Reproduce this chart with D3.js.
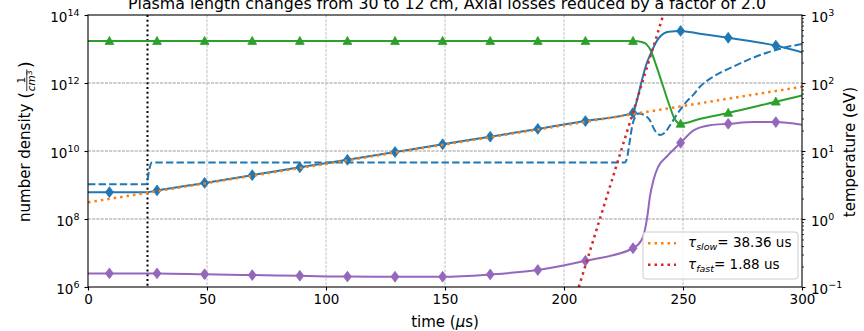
<!DOCTYPE html>
<html><head><meta charset="utf-8">
<script src="https://cdn.jsdelivr.net/npm/d3@7"></script>
<style>
body{margin:0;background:#fff}
svg{display:block}
text{font-family:"DejaVu Sans",sans-serif;fill:#000}
</style>
</head><body><svg id="c" width="864" height="331"></svg>
<script>
// ---------------- data ----------------
const title = "Plasma length changes from 30 to 12 cm, Axial losses reduced by a factor of 2.0";
const xTicks = [0, 50, 100, 150, 200, 250, 300];
const leftTicks = [1e6, 1e8, 1e10, 1e12, 1e14];
const leftExps = ["6", "8", "10", "12", "14"];
const rightTicks = [1e-1, 1e0, 1e1, 1e2, 1e3];
const rightExps = ["\u22121", "0", "1", "2", "3"];
const markerTimes = [9, 29, 49, 69, 89, 109, 129, 149, 169, 189, 209, 229, 249, 269, 289];
const switchTime = 25;

// blue solid, diamonds (left axis, 1/cm^3)
const ionDensity = [
  [0, 6.17e8], [9, 6.17e8], [25, 6.17e8], [29, 6.92e8], [49, 1.15e9], [69, 1.95e9],
  [89, 3.31e9], [109, 5.50e9], [129, 9.33e9], [149, 1.58e10], [169, 2.63e10],
  [189, 4.47e10], [209, 7.59e10], [229, 1.32e11], [230.5, 2.82e11], [232.6, 1.10e12],
  [234.6, 3.55e12], [236.8, 8.32e12], [238.5, 1.51e13], [240.3, 2.29e13], [242, 2.88e13],
  [244, 3.24e13], [249, 3.39e13], [257, 2.82e13], [269, 2.14e13], [289, 1.26e13], [300, 7.94e12]
];
// blue dashed (right axis, eV)
const electronTemp = [
  [0, 3.24], [24.6, 3.24], [25.6, 5.0], [26.7, 6.76], [225.5, 6.76], [226.5, 7.94],
  [227.5, 13.0], [228.7, 23.7], [229.9, 31.6], [231.5, 35.5], [233, 34.7], [236.1, 28.2],
  [238.2, 20.0], [240.5, 17.2], [242.5, 18.8], [244.5, 23.7], [247.3, 33.9], [251.5, 53.1],
  [254.3, 66.8], [257.1, 88.1], [262.7, 124], [271.1, 174], [278, 224], [285.2, 279],
  [292, 327], [300, 376]
];
// green solid, triangles (left axis)
const neutralDensity = [
  [0, 1.72e13], [9, 1.72e13], [29, 1.72e13], [49, 1.72e13], [69, 1.72e13], [89, 1.72e13],
  [109, 1.72e13], [129, 1.72e13], [149, 1.72e13], [169, 1.72e13], [189, 1.72e13],
  [209, 1.72e13], [229, 1.72e13], [231, 1.70e13], [233, 1.58e13], [234.8, 1.35e13],
  [236.5, 8.91e12], [238.9, 3.02e12], [241.7, 7.76e11], [244.5, 2.0e11], [246.6, 8.51e10],
  [249, 6.31e10], [257, 8.71e10], [269, 1.32e11], [289, 2.82e11], [300, 4.27e11]
];
// purple solid, diamonds (left axis)
const impurityDensity = [
  [0, 2.51e6], [9, 2.51e6], [29, 2.51e6], [49, 2.37e6], [69, 2.24e6], [89, 2.14e6],
  [109, 2.02e6], [129, 2.0e6], [149, 2.0e6], [169, 2.34e6], [189, 3.16e6], [209, 5.89e6],
  [229, 1.38e7], [232.6, 2.40e7], [234, 4.79e7], [235, 1.17e8], [236.1, 4.57e8],
  [237.6, 1.41e9], [239.6, 3.47e9], [243.1, 6.76e9], [249, 1.74e10], [254.3, 3.98e10],
  [261.3, 5.75e10], [269, 6.31e10], [280, 7.08e10], [289, 7.08e10], [300, 5.89e10]
];
// exponential fits (left axis)
const fitSlow = [[0, 3.09e8], [300, 7.76e11]];
const fitFast = [[206.2, 1e6], [241.7, 1e14]];
const legendEntries = [
  {sub: "slow", value: "= 38.36 us", color: "#ff7f0e"},
  {sub: "fast", value: "= 1.88 us", color: "#d62728"}
];

// ---------------- chart ----------------
const svg = d3.select("#c");
const M = {l: 88, r: 802, t: 15, b: 287};
const x = d3.scaleLinear().domain([0, 300]).range([M.l, M.r]);
const yL = d3.scaleLog().domain([1e6, 1e14]).range([M.b, M.t]);
const yR = d3.scaleLog().domain([1e-1, 1e3]).range([M.b, M.t]);

svg.append("defs").append("clipPath").attr("id", "clip")
  .append("rect").attr("x", M.l).attr("y", M.t).attr("width", M.r - M.l).attr("height", M.b - M.t);

// grid
const grid = svg.append("g").attr("stroke", "#b0b0b0").attr("stroke-width", 0.8).attr("stroke-dasharray", "2.96,1.28");
xTicks.slice(1, -1).forEach(t => grid.append("line").attr("x1", x(t)).attr("x2", x(t)).attr("y1", M.t).attr("y2", M.b));
leftTicks.slice(1, -1).forEach(v => grid.append("line").attr("x1", M.l).attr("x2", M.r).attr("y1", yL(v)).attr("y2", yL(v)));
rightTicks.slice(1, -1).forEach(v => grid.append("line").attr("x1", M.l).attr("x2", M.r).attr("y1", yR(v)).attr("y2", yR(v)));

const plot = svg.append("g").attr("clip-path", "url(#clip)");
const line = (ys) => d3.line().x(d => x(d[0])).y(d => ys(d[1])).curve(d3.curveMonotoneX);

// vertical dotted line at switch time
plot.append("line").attr("x1", x(switchTime)).attr("x2", x(switchTime)).attr("y1", M.t).attr("y2", M.b)
  .attr("stroke", "#000").attr("stroke-width", 2).attr("stroke-dasharray", "2,2.8");

function drawSeries(data, ys, color, dash, marker) {
  plot.append("path").datum(data).attr("d", line(ys)).attr("fill", "none")
    .attr("stroke", color).attr("stroke-width", 2).attr("stroke-dasharray", dash || null);
  if (marker) {
    const pts = data.filter(d => markerTimes.includes(d[0]));
    plot.selectAll(null).data(pts).enter().append("path")
      .attr("transform", d => `translate(${x(d[0])},${ys(d[1])})`)
      .attr("d", marker).attr("fill", color).attr("stroke", color).attr("stroke-width", 0.8);
  }
}
const diamond = "M0,-5.4L4,0L0,5.4L-4,0Z";
const triangle = "M0,-4.6L4.4,3.4L-4.4,3.4Z";

drawSeries(impurityDensity, yL, "#9467bd", null, diamond);
drawSeries(electronTemp, yR, "#1f77b4", "7.4,3.2", null);
drawSeries(neutralDensity, yL, "#2ca02c", null, triangle);
drawSeries(ionDensity, yL, "#1f77b4", null, diamond);
plot.append("path").datum(fitSlow).attr("d", line(yL)).attr("fill", "none")
  .attr("stroke", "#ff7f0e").attr("stroke-width", 2.5).attr("stroke-dasharray", "2.5,4");
plot.append("path").datum(fitFast).attr("d", line(yL)).attr("fill", "none")
  .attr("stroke", "#d62728").attr("stroke-width", 2.5).attr("stroke-dasharray", "2.5,4");

// frame
svg.append("rect").attr("x", M.l).attr("y", M.t).attr("width", M.r - M.l).attr("height", M.b - M.t)
  .attr("fill", "none").attr("stroke", "#000").attr("stroke-width", 1.1);

// x axis
const gx = svg.append("g").attr("transform", `translate(0,${M.b})`)
  .call(d3.axisBottom(x).tickValues(xTicks).tickSize(3.5).tickSizeOuter(0).tickPadding(3.5));
gx.select(".domain").remove();
gx.selectAll("line").attr("stroke-width", 1.1);
gx.selectAll("text").style("font-size", "13.5px").attr("font-family", null);

// left axis
const gyl = svg.append("g").attr("transform", `translate(${M.l},0)`)
  .call(d3.axisLeft(yL).tickValues(leftTicks).tickSize(3.5).tickSizeOuter(0).tickFormat(""));
gyl.select(".domain").remove();
gyl.selectAll("line").attr("stroke-width", 1.1);
leftTicks.forEach((v, i) => {
  const t = svg.append("text").attr("x", 79.5).attr("y", yL(v) + 6.5).attr("text-anchor", "end").style("font-size", "13.5px");
  t.append("tspan").text("10");
  t.append("tspan").attr("dy", -5.5).style("font-size", "9.5px").text(leftExps[i]);
});

// right axis
const gyr = svg.append("g").attr("transform", `translate(${M.r},0)`)
  .call(d3.axisRight(yR).tickValues(rightTicks).tickSize(3.5).tickSizeOuter(0).tickFormat(""));
gyr.select(".domain").remove();
gyr.selectAll("line").attr("stroke-width", 1.1);
const minor = yR.ticks().filter(v => !rightTicks.some(r => Math.abs(r - v) / r < 1e-9));
const gyrm = svg.append("g").attr("transform", `translate(${M.r},0)`)
  .call(d3.axisRight(yR).tickValues(minor).tickSize(2).tickSizeOuter(0).tickFormat(""));
gyrm.select(".domain").remove();
gyrm.selectAll("line").attr("stroke-width", 0.8);
rightTicks.forEach((v, i) => {
  const t = svg.append("text").attr("x", 811).attr("y", yR(v) + 6.5).attr("text-anchor", "start").style("font-size", "13.5px");
  t.append("tspan").text("10");
  t.append("tspan").attr("dy", -5.5).style("font-size", "9.5px").text(rightExps[i]);
});

// title (partly cut at the top edge, as in the reference)
svg.append("text").attr("x", 447).attr("y", 8.5).attr("text-anchor", "middle").style("font-size", "15.8px").text(title);

// x label
const xl = svg.append("text").attr("x", 445).attr("y", 327).attr("text-anchor", "middle").style("font-size", "15px");
xl.append("tspan").text("time (");
xl.append("tspan").style("font-style", "italic").text("\u03bc");
xl.append("tspan").text("s)");

// right label
svg.append("text").attr("transform", "translate(855,152) rotate(-90)").attr("text-anchor", "middle")
  .style("font-size", "15px").text("temperature (eV)");

// left label with fraction
const gl = svg.append("g").attr("transform", "translate(30,222) rotate(-90)");
const a = gl.append("text").attr("x", 0).attr("y", 0).style("font-size", "15px").text("number density");
let cx = a.node().getComputedTextLength() + 5;
const p1 = gl.append("text").attr("x", cx).attr("y", 1.5).style("font-size", "18px").text("(");
cx += p1.node().getComputedTextLength() + 0.5;
const den = gl.append("text").attr("x", cx).attr("y", 5.2).style("font-size", "10.5px");
den.append("tspan").style("font-style", "italic").text("cm");
den.append("tspan").attr("dy", -3.5).style("font-size", "7.5px").text("3");
const dw = den.node().getComputedTextLength();
gl.append("line").attr("x1", cx).attr("x2", cx + dw + 1).attr("y1", -3.2).attr("y2", -3.2)
  .attr("stroke", "#000").attr("stroke-width", 0.8);
gl.append("text").attr("x", cx + (dw + 1) / 2).attr("y", -5.3).attr("text-anchor", "middle")
  .style("font-size", "10.5px").text("1");
cx += dw + 2;
gl.append("text").attr("x", cx).attr("y", 1.5).style("font-size", "18px").text(")");

// legend
const lg = svg.append("g");
lg.append("rect").attr("x", 643).attr("y", 232).attr("width", 155).attr("height", 47).attr("rx", 3)
  .attr("fill", "#fff").attr("fill-opacity", 0.8).attr("stroke", "#cccccc").attr("stroke-width", 1);
legendEntries.forEach((e, i) => {
  const yb = 247.3 + i * 21.4;
  lg.append("line").attr("x1", 648).attr("x2", 676).attr("y1", yb - 4).attr("y2", yb - 4)
    .attr("stroke", e.color).attr("stroke-width", 2.5).attr("stroke-dasharray", "2.5,4");
  const t = lg.append("text").attr("x", 688).attr("y", yb).style("font-size", "13.5px");
  t.append("tspan").style("font-style", "italic").text("\u03c4");
  t.append("tspan").attr("dy", 2.8).style("font-size", "9.5px").style("font-style", "italic").text(e.sub);
  t.append("tspan").attr("dy", -2.8).text(e.value);
});
</script>
</body></html>
